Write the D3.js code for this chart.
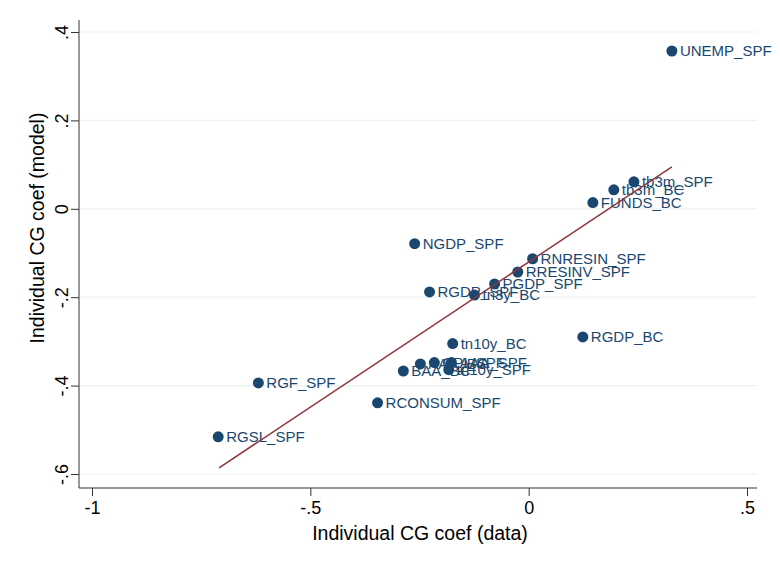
<!DOCTYPE html>
<html><head><meta charset="utf-8">
<script src="https://cdn.jsdelivr.net/npm/d3@7"></script>
<style>body{margin:0;background:#fff}svg{display:block}</style>
</head><body>
<script>
const labels = ["UNEMP_SPF","tb3m_SPF","tb3m_BC","FUNDS_BC","NGDP_SPF","RNRESIN_SPF","RRESINV_SPF","PGDP_SPF","RGDP_SPF","tn3y_BC","RGDP_BC","tn10y_BC","AAA_BC","CPI_SPF","AAA_SPF","tn10y_SPF","BAA_BC","RGF_SPF","RCONSUM_SPF","RGSL_SPF"];
const dataX = [0.328,0.241,0.195,0.147,-0.261,0.009,-0.025,-0.078,-0.227,-0.124,0.124,-0.174,-0.248,-0.216,-0.177,-0.183,-0.287,-0.619,-0.346,-0.711];
const modelY = [0.357,0.061,0.043,0.014,-0.079,-0.113,-0.143,-0.170,-0.188,-0.195,-0.290,-0.305,-0.351,-0.348,-0.348,-0.364,-0.367,-0.394,-0.439,-0.516];
const fitX = [-0.709, 0.328];
const fitY = [-0.586, 0.095];
const xTicks = [-1,-0.5,0,0.5];
const xTickLabels = ["-1","-.5","0",".5"];
const yTicks = [-0.6,-0.4,-0.2,0,0.2,0.4];
const yTickLabels = ["-.6","-.4","-.2","0",".2",".4"];

const W=780,H=563;
const svg=d3.select("body").append("svg").attr("width",W).attr("height",H);
const font="Liberation Sans, Arial, sans-serif";
const x=d3.scaleLinear().domain([-1,0.5]).range([92,747]);
const y=d3.scaleLinear().domain([-0.6,0.4]).range([474,32]);
const pLeft=79,pRight=757,pBottom=488,pTop=20;

// grid
svg.append("g").selectAll("line").data(yTicks).join("line")
  .attr("x1",pLeft+1).attr("x2",pRight).attr("y1",d=>y(d)).attr("y2",d=>y(d))
  .attr("stroke","#eaf2f3").attr("stroke-width",1.2);

// axes
const xa=svg.append("g").attr("transform",`translate(0,${pBottom})`)
  .call(d3.axisBottom(x).tickValues(xTicks).tickFormat((d,i)=>xTickLabels[i]).tickSize(8).tickSizeOuter(0).tickPadding(5));
xa.select(".domain").attr("d",`M${pLeft},0H${pRight}`).attr("stroke","#333");
xa.selectAll(".tick line").attr("stroke","#333");
xa.selectAll("text").attr("font-family",font).attr("font-size",18).attr("fill","#000");

const ya=svg.append("g").attr("transform",`translate(${pLeft},0)`)
  .call(d3.axisLeft(y).tickValues(yTicks).tickFormat((d,i)=>yTickLabels[i]).tickSize(8).tickSizeOuter(0));
ya.select(".domain").attr("d",`M0,${pTop}V${pBottom}`).attr("stroke","#333");
ya.selectAll(".tick line").attr("stroke","#333");
ya.selectAll("text").attr("font-family",font).attr("font-size",18).attr("fill","#000")
  .attr("text-anchor","middle").attr("x",0).attr("dy",0)
  .attr("transform","translate(-11,0) rotate(-90)");

// titles
svg.append("text").attr("x",420).attr("y",540).attr("text-anchor","middle")
  .attr("font-family",font).attr("font-size",19.5).text("Individual CG coef (data)");
svg.append("text").attr("transform",`translate(44,228) rotate(-90)`).attr("text-anchor","middle")
  .attr("font-family",font).attr("font-size",19.5).text("Individual CG coef (model)");

// points
const pts=labels.map((l,i)=>({l,x:dataX[i],y:modelY[i]}));
svg.append("g").selectAll("circle").data(pts).join("circle")
  .attr("cx",d=>x(d.x)).attr("cy",d=>y(d.y)).attr("r",5.5).attr("fill","#1a476f");
svg.append("g").selectAll("text").data(pts).join("text")
  .attr("x",d=>x(d.x)+8).attr("y",d=>y(d.y)).attr("dy","0.36em")
  .attr("font-family",font).attr("font-size",15).attr("fill","#1a476f").text(d=>d.l);

// fit line
svg.append("line").attr("x1",x(fitX[0])).attr("y1",y(fitY[0])).attr("x2",x(fitX[1])).attr("y2",y(fitY[1]))
  .attr("stroke","#90353b").attr("stroke-width",1.5);
</script>
</body></html>
